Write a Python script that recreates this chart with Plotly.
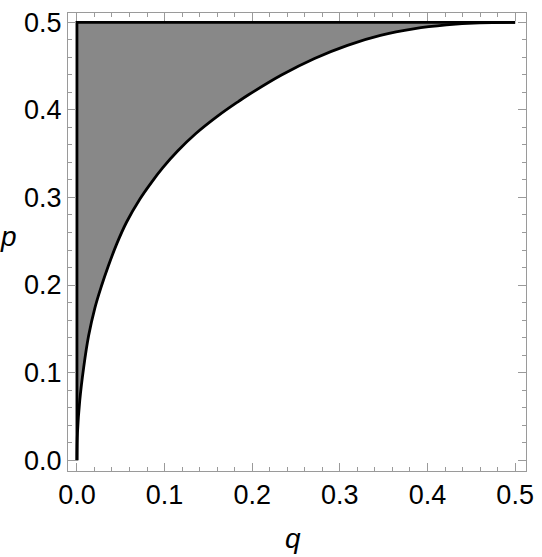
import plotly.graph_objects as go

# Boundary curve of the shaded region
q_curve = [0.0, 0.0006, 0.0032, 0.0077, 0.0133, 0.0205, 0.0277, 0.0359, 0.0454,
           0.0567, 0.0717, 0.0849, 0.098, 0.1149, 0.1357, 0.162, 0.1845, 0.1958,
           0.2334, 0.2711, 0.3087, 0.3463, 0.384, 0.4216, 0.4592, 0.5]
p_curve = [0.0, 0.031, 0.068, 0.106, 0.142, 0.174, 0.198, 0.222, 0.247,
           0.272, 0.298, 0.317, 0.334, 0.353, 0.373, 0.394, 0.4098, 0.4173,
           0.4399, 0.4588, 0.4738, 0.4851, 0.4926, 0.4971, 0.4994, 0.5]

p_top = 0.5
q_left = 0.0
tick_vals = [0.0, 0.1, 0.2, 0.3, 0.4, 0.5]
tick_text = ["0.0", "0.1", "0.2", "0.3", "0.4", "0.5"]

FONT = "Liberation Sans, Arial, Helvetica, sans-serif"
FRAME = "#9a9a9a"

L, R, T, B = 68, 11, 8, 86
W, H = 542, 557
plot_w = W - L - R
plot_h = H - T - B

fig = go.Figure()

# shaded region
fig.add_trace(go.Scatter(
    x=q_curve + [q_left, q_left],
    y=p_curve + [p_top, 0.0],
    mode="lines", fill="toself", fillcolor="#888888",
    line=dict(width=0, color="#888888"), hoverinfo="skip", showlegend=False))

# boundary curve
fig.add_trace(go.Scatter(
    x=q_curve, y=p_curve, mode="lines",
    line=dict(color="black", width=2.8, shape="spline", smoothing=1.0),
    showlegend=False))

# left and top edges
fig.add_trace(go.Scatter(
    x=[q_left, q_left, q_curve[-1]], y=[0.0, p_top, p_top], mode="lines",
    line=dict(color="black", width=2.8), showlegend=False))

axis_common = dict(
    showgrid=False, zeroline=False, showline=True, linecolor=FRAME, linewidth=1,
    mirror="ticks", ticks="inside", ticklen=8, tickcolor=FRAME, tickwidth=1,
    tickvals=tick_vals, ticktext=tick_text,
    tickfont=dict(family=FONT, size=27, color="black"),
    minor=dict(dtick=0.02, tick0=0, ticks="inside", ticklen=4, tickcolor=FRAME, tickwidth=1),
)

fig.update_layout(
    width=W, height=H,
    margin=dict(l=L, r=R, t=T, b=B),
    paper_bgcolor="white", plot_bgcolor="white",
    xaxis=dict(range=[-0.0102, 0.5124], **axis_common),
    yaxis=dict(range=[-0.0124, 0.5107], **axis_common),
    annotations=[
        dict(text="<i>q</i>", xref="paper", yref="paper",
             x=(295 - L) / plot_w, y=(H - B - 539) / plot_h,
             xanchor="center", yanchor="middle",
             showarrow=False, font=dict(family=FONT, size=28, color="black")),
        dict(text="<i>p</i>", xref="paper", yref="paper",
             x=(8 - L) / plot_w, y=(H - B - 234) / plot_h,
             xanchor="center", yanchor="middle",
             showarrow=False, font=dict(family=FONT, size=28, color="black")),
    ],
)

fig.write_html("out.html")
